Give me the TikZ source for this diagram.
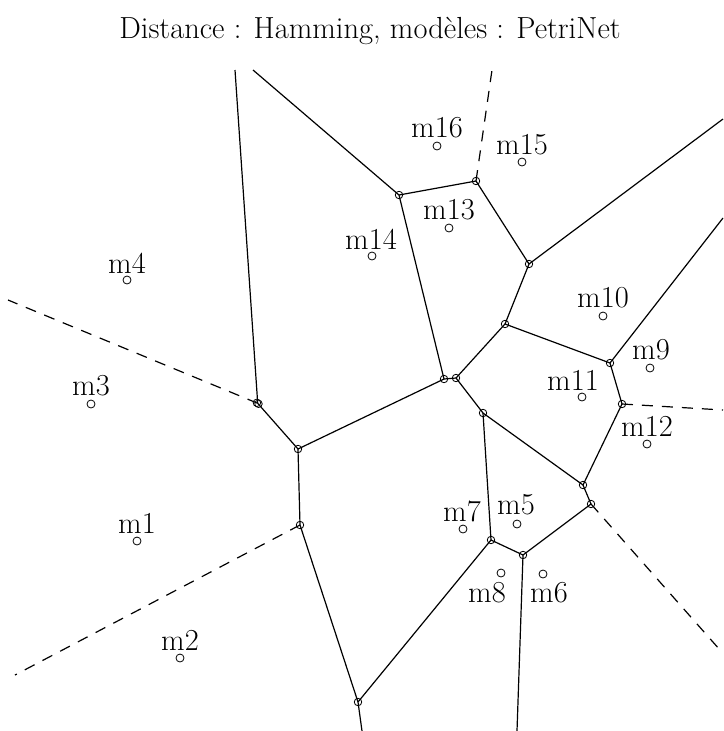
\documentclass[tikz,border=0pt]{standalone}
\usepackage{fontspec}
\usetikzlibrary{calc}
\begin{document}
\begin{tikzpicture}[x=1pt,y=-1pt,
  edge/.style={line width=1.2pt},
  ray/.style={line width=1.2pt,dash pattern=on 11pt off 9pt},
  vtx/.style={draw,circle,inner sep=0pt,minimum size=7.5pt,line width=0.8pt},
  site/.style={draw,circle,inner sep=0pt,minimum size=8pt,line width=0.8pt},
  lbl/.style={font=\fontsize{30.5}{36}\selectfont,inner sep=0pt}]
\useasboundingbox (0,0) rectangle (723,731);
\node[lbl] (title) at (370,31) {Distance : Hamming, modèles : PetriNet};
% Voronoi vertices
\coordinate (A) at (257.7,403.3);
\coordinate (B) at (298,449);
\coordinate (C) at (300,525);
\coordinate (D) at (358,702);
\coordinate (E) at (491,540);
\coordinate (F) at (523,555);
\coordinate (G) at (591,504);
\coordinate (H) at (583,485);
\coordinate (I) at (483,413);
\coordinate (J) at (456,378);
\coordinate (K) at (444,379);
\coordinate (L) at (505,324);
\coordinate (M) at (529,264);
\coordinate (N) at (476,181);
\coordinate (O) at (399,195);
\coordinate (P) at (610,363);
\coordinate (Q) at (622,404);
% border ends
\coordinate (t1) at (235,70);
\coordinate (t2) at (253,70);
\coordinate (t3) at (492,70);
\coordinate (r1) at (723,119);
\coordinate (r2) at (723,218);
\coordinate (r3) at (723,410);
\coordinate (r4) at (720,650);
\coordinate (b1) at (517,731);
\coordinate (b2) at (362,731);
\coordinate (l1) at (15,675);
\coordinate (l2) at (8,300);
% edges
\draw[edge] (t1) -- (A);
\draw[edge] (t2) -- (O);
\draw[edge] (O) -- (N);
\draw[ray] (N) -- (t3);
\draw[edge] (N) -- (M);
\draw[edge] (M) -- (r1);
\draw[edge] (M) -- (L);
\draw[edge] (L) -- (J);
\draw[edge] (L) -- (P);
\draw[edge] (P) -- (r2);
\draw[edge] (P) -- (Q);
\draw[ray] (Q) -- (r3);
\draw[edge] (Q) -- (H);
\draw[edge] (H) -- (I);
\draw[edge] (H) -- (G);
\draw[edge] (G) -- (F);
\draw[ray] (G) -- (r4);
\draw[edge] (F) -- (E);
\draw[edge] (F) -- (b1);
\draw[edge] (E) -- (I);
\draw[edge] (E) -- (D);
\draw[edge] (D) -- (b2);
\draw[edge] (D) -- (C);
\draw[edge] (C) -- (B);
\draw[ray] (C) -- (l1);
\draw[edge] (B) -- (A);
\draw[edge] (B) -- (K);
\draw[edge] (K) -- (O);
\draw[edge] (K) -- (J);
\draw[edge] (J) -- (I);
\draw[ray] (A) -- (l2);
% vertex markers
\foreach \v in {B,C,D,E,F,G,H,I,J,K,L,M,N,O,P,Q}
  \node[vtx] at (\v) {};
\node[vtx] at ($(A)+(-0.8,-0.5)$) {};
\node[vtx] at ($(A)+(0.8,0.5)$) {};
% sites
\node[site] (m1) at (137,541) {};
\node[site] (m2) at (180,658) {};
\node[site] (m3) at (91,404) {};
\node[site] (m4) at (127,280) {};
\node[site] (m5) at (517,524) {};
\node[site] (m6) at (543,574) {};
\node[site] (m7) at (463,529) {};
\node[site] (m8) at (501,573) {};
\node[site] (m9) at (650,368) {};
\node[site] (m10) at (603,316) {};
\node[site] (m11) at (582,397) {};
\node[site] (m12) at (647,444) {};
\node[site] (m13) at (449,228) {};
\node[site] (m14) at (372,256) {};
\node[site] (m15) at (522,162) {};
\node[site] (m16) at (437,146) {};
% labels
\node[lbl] (l-m1) at (137,523) {m1};
\node[lbl] (l-m2) at (180,640) {m2};
\node[lbl] (l-m3) at (91,386) {m3};
\node[lbl] (l-m4) at (127,263) {m4};
\node[lbl] (l-m5) at (516,505) {m5};
\node[lbl] (l-m6) at (549,593) {m6};
\node[lbl] (l-m7) at (462,511) {m7};
\node[lbl] (l-m8) at (487,593) {m8};
\node[lbl] (l-m9) at (651,350) {m9};
\node[lbl] (l-m10) at (603,298) {m10};
\node[lbl] (l-m11) at (573,380) {m11};
\node[lbl] (l-m12) at (647,426) {m12};
\node[lbl] (l-m13) at (449,210) {m13};
\node[lbl] (l-m14) at (371,239) {m14};
\node[lbl] (l-m15) at (522,145) {m15};
\node[lbl] (l-m16) at (437,128) {m16};
\end{tikzpicture}
\end{document}
